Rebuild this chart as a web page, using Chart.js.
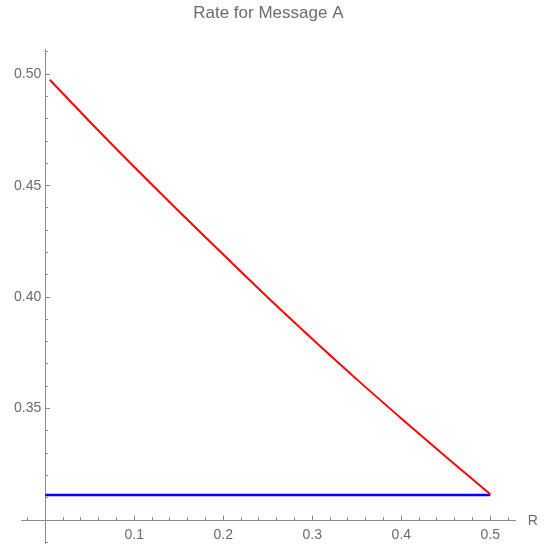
<!doctype html>
<html>
<head>
  <meta charset="utf-8">
  <title>Rate for Message A</title>
  <script src="https://cdn.jsdelivr.net/npm/chart.js"></script>
  <style>
    html, body { margin: 0; padding: 0; background: #fff; }
    canvas { display: block; }
  </style>
</head>
<body>
  <canvas id="rateChart" width="549" height="550"></canvas>
  <script>
    // values
    const redR = [0.005, 0.05, 0.1, 0.15, 0.2, 0.25, 0.3, 0.35, 0.4, 0.45, 0.5];
    const redRate = [0.4975, 0.4787, 0.4584, 0.4385, 0.4191, 0.3998, 0.3812, 0.3631, 0.3456, 0.3284, 0.3116];
    const blueR = [0, 0.5];
    const blueRate = [0.3112, 0.3112];

    const xRange = [-0.0273, 0.5285];
    const yRange = [0.2897, 0.5109];
    const xMajorStep = 0.1, xMinorStep = 0.02;
    const yMajorStep = 0.05, yMinorStep = 0.01;
    const axisOrigin = { x: 0, y: 0.30 };
    const yLabelAt = -0.0045; // y tick labels sit just left of the axis
    const axisLabel = 'R';

    const FONT = "'Liberation Sans', Arial, Helvetica, sans-serif";
    const AXIS = '#8c8c8c';
    const TEXT = '#6b6b6b';

    function toPoints(xs, ys) {
      return xs.map((x, i) => ({ x: x, y: ys[i] }));
    }

    // Mathematica style: axis label written to the right of the x axis end
    const axisLabelPlugin = {
      id: 'axisLabel',
      afterDraw(chart) {
        const { ctx, chartArea, scales } = chart;
        ctx.save();
        ctx.font = '14px ' + FONT;
        ctx.fillStyle = TEXT;
        ctx.textAlign = 'left';
        ctx.textBaseline = 'middle';
        ctx.fillText(axisLabel, chartArea.right + 12, scales.y.getPixelForValue(axisOrigin.y) + 1);
        ctx.restore();
      }
    };

    const hiddenGrid = { drawOnChartArea: false, color: AXIS, tickColor: AXIS, tickWidth: 1 };

    new Chart(document.getElementById('rateChart'), {
      type: 'line',
      data: {
        datasets: [
          { data: toPoints(redR, redRate), borderColor: '#ff0000', borderWidth: 2, pointRadius: 0,
            cubicInterpolationMode: 'monotone', xAxisID: 'x', yAxisID: 'y' },
          { data: toPoints(blueR, blueRate), borderColor: '#0000ff', borderWidth: 2.5, pointRadius: 0,
            xAxisID: 'x', yAxisID: 'y' }
        ]
      },
      options: {
        responsive: false,
        animation: false,
        layout: { padding: { left: 21, right: 33.3, top: 0, bottom: 7 } },
        plugins: {
          legend: { display: false },
          tooltip: { enabled: false },
          title: {
            display: true,
            fullSize: false,
            text: 'Rate for Message A',
            color: TEXT,
            font: { family: FONT, size: 17, weight: 'normal' },
            padding: { top: 3.5, bottom: 26 }
          }
        },
        scales: {
          x: {
            type: 'linear',
            min: xRange[0], max: xRange[1],
            position: { y: axisOrigin.y },
            border: { display: true, color: AXIS, width: 1 },
            grid: Object.assign({ tickLength: -5.5 }, hiddenGrid),
            ticks: {
              stepSize: xMajorStep, includeBounds: false, autoSkip: false, maxRotation: 0,
              padding: 12, color: TEXT, font: { family: FONT, size: 14 },
              callback: (v) => Math.abs(v - axisOrigin.x) < 1e-9 ? '' : v.toFixed(1)
            }
          },
          xMinor: {
            type: 'linear', axis: 'x',
            min: xRange[0], max: xRange[1],
            position: { y: axisOrigin.y },
            border: { display: false },
            grid: Object.assign({ tickLength: -3 }, hiddenGrid),
            ticks: { stepSize: xMinorStep, includeBounds: false, autoSkip: false, display: false }
          },
          y: {
            type: 'linear',
            min: yRange[0], max: yRange[1],
            position: { x: axisOrigin.x },
            border: { display: true, color: AXIS, width: 1 },
            grid: Object.assign({ tickLength: -5 }, hiddenGrid),
            ticks: { stepSize: yMajorStep, includeBounds: false, autoSkip: false, display: false }
          },
          yMinor: {
            type: 'linear', axis: 'y',
            min: yRange[0], max: yRange[1],
            position: { x: axisOrigin.x },
            border: { display: false },
            grid: Object.assign({ tickLength: -3 }, hiddenGrid),
            ticks: { stepSize: yMinorStep, includeBounds: false, autoSkip: false, display: false }
          },
          yLabels: {
            type: 'linear', axis: 'y',
            min: yRange[0], max: yRange[1],
            position: { x: yLabelAt },
            border: { display: false },
            grid: { drawOnChartArea: false, drawTicks: false },
            ticks: {
              stepSize: yMajorStep, includeBounds: false, autoSkip: false,
              padding: 0, color: TEXT, font: { family: FONT, size: 14, lineHeight: 1 },
              callback: (v) => Math.abs(v - axisOrigin.y) < 1e-9 ? '' : v.toFixed(2)
            }
          }
        }
      },
      plugins: [axisLabelPlugin]
    });
  </script>
</body>
</html>
